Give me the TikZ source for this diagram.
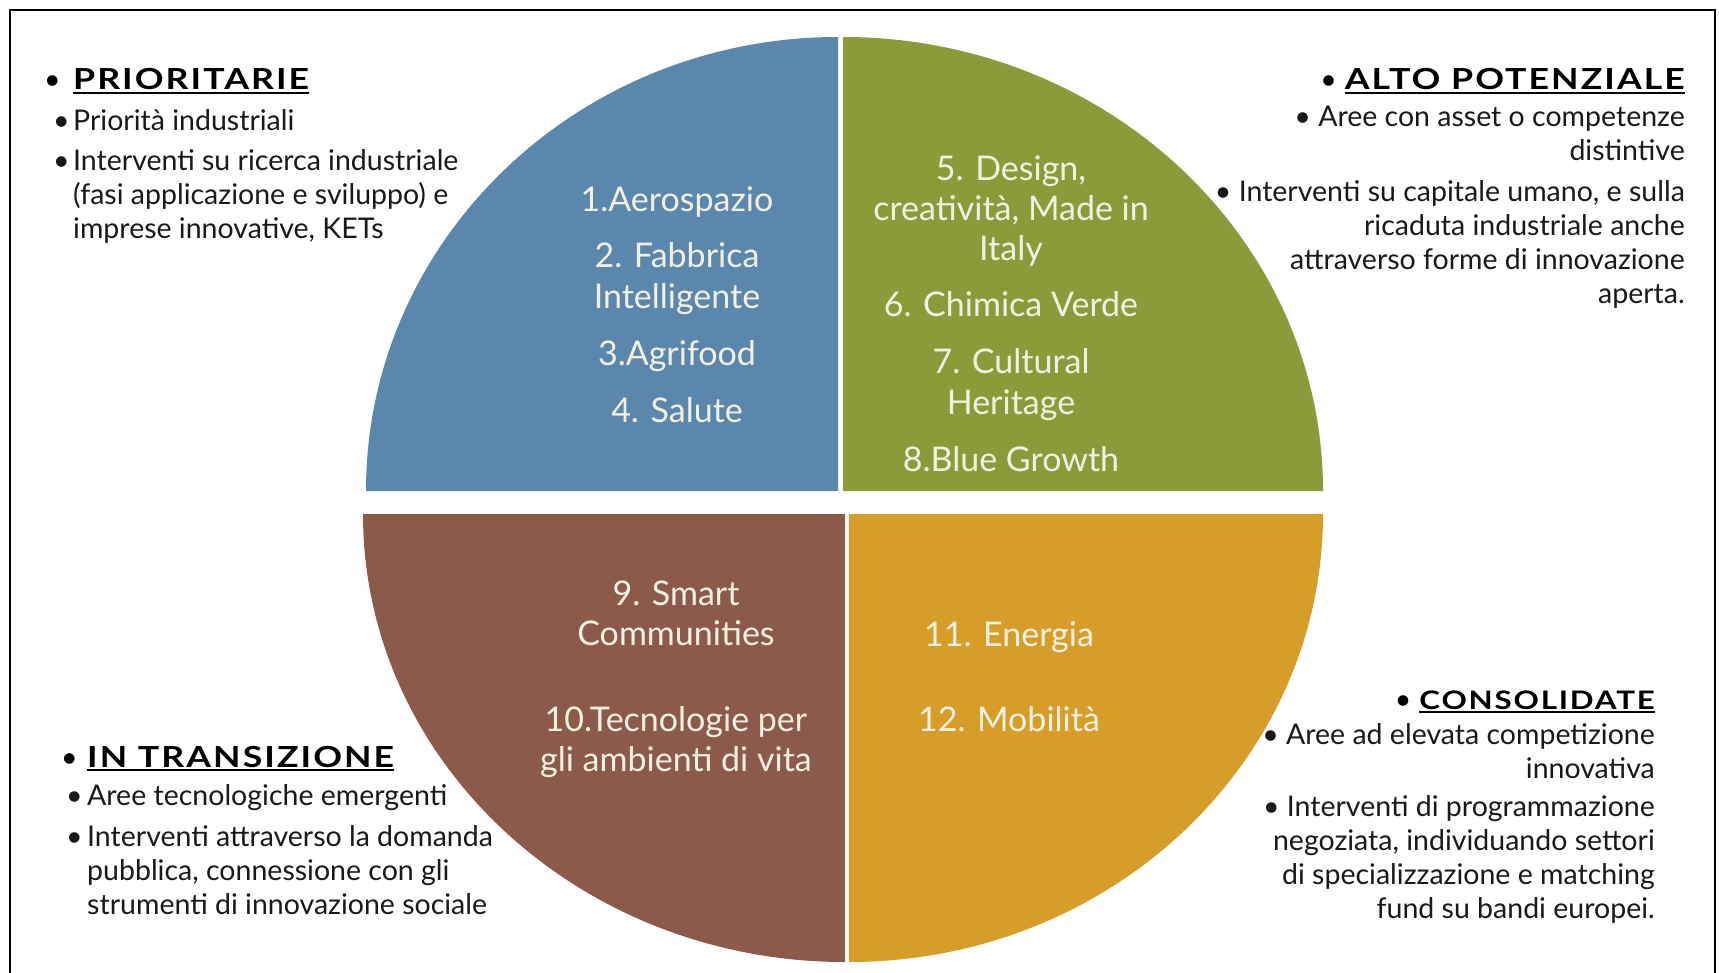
\documentclass[tikz,border=0pt]{standalone}
\usepackage{fontspec}
\setmainfont{Lato}
\definecolor{azzurro}{RGB}{91,135,173}
\definecolor{verde}{RGB}{138,155,58}
\definecolor{marrone}{RGB}{139,90,74}
\definecolor{ocra}{RGB}{214,158,40}
\definecolor{crema}{RGB}{242,240,225}
\definecolor{nero}{RGB}{25,25,25}
\newcommand{\punto}{\makebox[20pt][l]{\textbullet}}
\newcommand{\rientro}{\hspace*{20pt}}
\newcommand{\sottolinea}[1]{\setbox0\hbox{#1}\rlap{\rule[-4pt]{\wd0}{2.2pt}}\box0}
\newcommand{\puntotit}{{\normalfont\fontsize{28.5}{34}\selectfont\textbullet}}

\begin{document}
\begin{tikzpicture}[x=1pt, y=-1pt]
  \tikzstyle{testo}=[inner sep=0pt, text=nero, font=\fontsize{28.5}{34}\selectfont]
  \tikzstyle{titolo}=[inner sep=0pt, text=black,
    font=\fontsize{29}{34}\selectfont\bfseries\addfontfeature{FakeStretch=1.23, LetterSpace=7}]
  \tikzstyle{settore}=[inner sep=0pt, align=center, text=crema, font=\fontsize{34}{40}\selectfont]
  \useasboundingbox[fill=white] (0,0) rectangle (1719,973);
  % cornice
  \draw[line width=2.5pt] (10,973) -- (10,10) -- (1715,10) -- (1715,973);
  % i quattro quadranti
  \fill[azzurro] (838,491) -- ++(-472,0)
    arc[start angle=180, end angle=270, x radius=472, y radius=454] -- cycle;
  \fill[verde] (843,491) -- ++(0,-454)
    arc[start angle=270, end angle=360, x radius=480, y radius=454] -- cycle;
  \fill[marrone] (845,514) -- ++(-482,0)
    arc[start angle=180, end angle=90, x radius=482, y radius=448] -- cycle;
  \fill[ocra] (849,514) -- ++(474,0)
    arc[start angle=0, end angle=90, x radius=474, y radius=448] -- cycle;
  % testi nei quadranti (base = ultima riga)
  \node[settore, anchor=base] (aero) at (677,422)
    {1.Aerospazio\\[17pt] 2. Fabbrica\\Intelligente\\[17pt] 3.Agrifood\\[17pt] 4. Salute};
  \node[settore, anchor=base] (design) at (1011,471)
    {5. Design,\\creatività, Made in\\Italy\\[17pt] 6. Chimica Verde\\[17pt]
     7. Cultural\\Heritage\\[17pt] 8.Blue Growth};
  \node[settore, anchor=base] (smart) at (676,771)
    {9. Smart\\Communities\\[46pt] 10.Tecnologie per\\gli ambienti di vita};
  \node[settore, anchor=base] (energia) at (1009,731)
    {11. Energia\\[45pt] 12. Mobilità};
  % prioritarie
  \node[titolo, anchor=base west] (prio) at (44,90)
    {\makebox[29pt][l]{\puntotit}\sottolinea{PRIORITARIE}};
  \node[testo, anchor=base west, align=left] (prio1) at (53,239)
    {\punto Priorità industriali\\[6pt]
     \punto Interventi su ricerca industriale\\
     \rientro (fasi applicazione e sviluppo) e\\
     \rientro imprese innovative, KETs};
  % alto potenziale
  \node[titolo, anchor=base east] (alto) at (1685,90)
    {\puntotit\hspace{8pt}\sottolinea{ALTO POTENZIALE}};
  \node[testo, anchor=base east, align=right] (alto1) at (1685,304)
    {\textbullet\ Aree con asset o competenze\\distintive\\[7pt]
     \textbullet\ Interventi su capitale umano, e sulla\\ricaduta industriale anche\\
     attraverso forme di innovazione\\aperta.};
  % in transizione
  \node[titolo, anchor=base west] (trans) at (61,767)
    {\makebox[26pt][l]{\puntotit}\sottolinea{IN TRANSIZIONE}};
  \node[testo, anchor=base west, align=left] (trans1) at (66,914)
    {\makebox[21pt][l]{\textbullet}Aree tecnologiche emergenti\\[7pt]
     \makebox[21pt][l]{\textbullet}Interventi attraverso la domanda\\
     \hspace*{21pt}pubblica, connessione con gli\\
     \hspace*{21pt}strumenti di innovazione sociale};
  % consolidate
  \node[titolo, anchor=base east,
    font=\fontsize{25.5}{34}\selectfont\bfseries\addfontfeature{FakeStretch=1.23, LetterSpace=7}]
    (cons) at (1655,709) {\puntotit\hspace{8pt}\sottolinea{CONSOLIDATE}};
  \node[testo, anchor=base east, align=right] (cons1) at (1655,918)
    {\textbullet\ Aree ad elevata competizione\\innovativa\\[4pt]
     \textbullet\ Interventi di programmazione\\negoziata, individuando settori\\
     di specializzazione e matching\\fund su bandi europei.};
\end{tikzpicture}
\end{document}
